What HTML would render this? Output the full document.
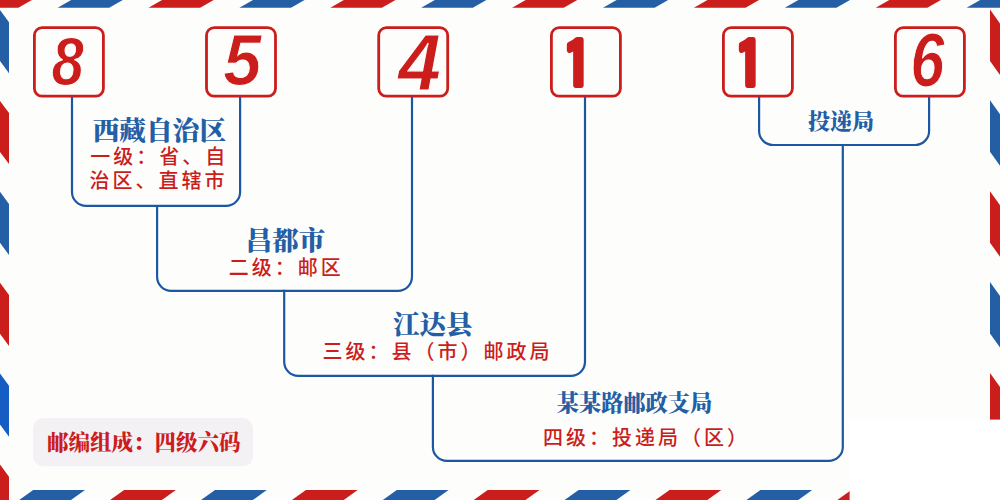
<!DOCTYPE html>
<html lang="zh-CN">
<head>
<meta charset="utf-8">
<title>854116</title>
<style>
html,body{margin:0;padding:0;background:#fdfefc;}
body{width:1000px;height:500px;overflow:hidden;position:relative;}
svg{position:absolute;left:0;top:0;display:block;}
.t{font-family:"Liberation Serif","Noto Serif CJK SC",serif;font-weight:900;fill:#245fa5;text-anchor:middle;}
.r{font-family:"Liberation Sans","Noto Sans CJK SC",sans-serif;font-weight:500;fill:#cb1d1c;text-anchor:middle;font-size:20px;letter-spacing:3px;}
.d{font-family:"Liberation Sans","DejaVu Sans",sans-serif;font-weight:700;font-style:italic;fill:#cb1d1c;text-anchor:middle;font-size:70px;}
.l{font-family:"Liberation Serif","Noto Serif CJK SC",serif;font-weight:900;fill:#cb1d1c;font-size:21.5px;}
</style>
</head>
<body>
<svg width="1000" height="500" viewBox="0 0 1000 500">
<rect x="0" y="0" width="1000" height="500" fill="#fdfefc"/>
<g shape-rendering="geometricPrecision">
<polygon points="-33.3,7.8 18.3,7.8 31.9,0.0 -19.7,0.0" fill="#cb1d1c"/>
<polygon points="57.6,7.8 109.2,7.8 122.8,0.0 71.2,0.0" fill="#245fa5"/>
<polygon points="148.5,7.8 200.1,7.8 213.7,0.0 162.1,0.0" fill="#cb1d1c"/>
<polygon points="239.4,7.8 291.0,7.8 304.6,0.0 253.0,0.0" fill="#245fa5"/>
<polygon points="330.3,7.8 381.9,7.8 395.5,0.0 343.9,0.0" fill="#cb1d1c"/>
<polygon points="421.2,7.8 472.8,7.8 486.4,0.0 434.8,0.0" fill="#245fa5"/>
<polygon points="512.1,7.8 563.7,7.8 577.3,0.0 525.7,0.0" fill="#cb1d1c"/>
<polygon points="603.0,7.8 654.6,7.8 668.2,0.0 616.6,0.0" fill="#245fa5"/>
<polygon points="693.9,7.8 745.5,7.8 759.1,0.0 707.5,0.0" fill="#cb1d1c"/>
<polygon points="784.8,7.8 836.4,7.8 850.0,0.0 798.4,0.0" fill="#245fa5"/>
<polygon points="875.7,7.8 927.3,7.8 940.9,0.0 889.3,0.0" fill="#cb1d1c"/>
<polygon points="966.6,7.8 1018.2,7.8 1031.8,0.0 980.2,0.0" fill="#245fa5"/>
<polygon points="1057.5,7.8 1109.1,7.8 1122.7,0.0 1071.1,0.0" fill="#cb1d1c"/>
<polygon points="-71.7,500.0 -19.9,500.0 -5.9,490.0 -57.7,490.0" fill="#cb1d1c"/>
<polygon points="19.2,500.0 71.0,500.0 85.0,490.0 33.2,490.0" fill="#245fa5"/>
<polygon points="110.1,500.0 161.9,500.0 175.9,490.0 124.1,490.0" fill="#cb1d1c"/>
<polygon points="201.0,500.0 252.8,500.0 266.8,490.0 215.0,490.0" fill="#245fa5"/>
<polygon points="291.9,500.0 343.7,500.0 357.7,490.0 305.9,490.0" fill="#cb1d1c"/>
<polygon points="382.8,500.0 434.6,500.0 448.6,490.0 396.8,490.0" fill="#245fa5"/>
<polygon points="473.7,500.0 525.5,500.0 539.5,490.0 487.7,490.0" fill="#cb1d1c"/>
<polygon points="564.6,500.0 616.4,500.0 630.4,490.0 578.6,490.0" fill="#245fa5"/>
<polygon points="655.5,500.0 707.3,500.0 721.3,490.0 669.5,490.0" fill="#cb1d1c"/>
<polygon points="746.4,500.0 798.2,500.0 812.2,490.0 760.4,490.0" fill="#245fa5"/>
<polygon points="837.3,500.0 889.1,500.0 903.1,490.0 851.3,490.0" fill="#cb1d1c"/>
<polygon points="928.2,500.0 980.0,500.0 994.0,490.0 942.2,490.0" fill="#245fa5"/>
<polygon points="1019.1,500.0 1070.9,500.0 1084.9,490.0 1033.1,490.0" fill="#cb1d1c"/>
<polygon points="0.0,-80.9 0.0,-29.9 9.0,-17.7 9.0,-68.7" fill="#cb1d1c"/>
<polygon points="0.0,10.0 0.0,61.0 9.0,73.2 9.0,22.2" fill="#245fa5"/>
<polygon points="0.0,100.9 0.0,151.9 9.0,164.1 9.0,113.1" fill="#cb1d1c"/>
<polygon points="0.0,191.8 0.0,242.8 9.0,255.0 9.0,204.0" fill="#245fa5"/>
<polygon points="0.0,282.7 0.0,333.7 9.0,345.9 9.0,294.9" fill="#cb1d1c"/>
<polygon points="0.0,373.6 0.0,424.6 9.0,436.8 9.0,385.8" fill="#155dc2"/>
<polygon points="0.0,464.5 0.0,515.5 9.0,527.7 9.0,476.7" fill="#cb1d1c"/>
<polygon points="0.0,555.4 0.0,606.4 9.0,618.6 9.0,567.6" fill="#245fa5"/>
<polygon points="990.0,-81.5 990.0,-30.0 1000.0,-16.0 1000.0,-67.5" fill="#245fa5"/>
<polygon points="990.0,9.4 990.0,60.9 1000.0,74.9 1000.0,23.4" fill="#cb1d1c"/>
<polygon points="990.0,100.3 990.0,151.8 1000.0,165.8 1000.0,114.3" fill="#245fa5"/>
<polygon points="990.0,191.2 990.0,242.7 1000.0,256.7 1000.0,205.2" fill="#cb1d1c"/>
<polygon points="990.0,282.1 990.0,333.6 1000.0,347.6 1000.0,296.1" fill="#245fa5"/>
<polygon points="990.0,373.0 990.0,424.5 1000.0,438.5 1000.0,387.0" fill="#cb1d1c"/>
<polygon points="990.0,463.9 990.0,515.4 1000.0,529.4 1000.0,477.9" fill="#245fa5"/>
<polygon points="990.0,554.8 990.0,606.3 1000.0,620.3 1000.0,568.8" fill="#cb1d1c"/>
</g>
<rect x="849.6" y="419.6" width="151" height="81" fill="#ffffff"/>
<g fill="none" stroke="#1c57a3" stroke-width="2.2" stroke-linecap="butt">
<path d="M72.0 97.0 V191.9 A14 14 0 0 0 86.0 205.9 H226.1 A14 14 0 0 0 240.1 191.9 V97.0"/>
<path d="M157.1 204.9 V276.8 A14 14 0 0 0 171.1 290.8 H398.0 A14 14 0 0 0 412.0 276.8 V97.0"/>
<path d="M284.2 289.8 V361.8 A14 14 0 0 0 298.2 375.8 H571.0 A14 14 0 0 0 585.0 361.8 V97.0"/>
<path d="M432.9 374.8 V446.9 A14 14 0 0 0 446.9 460.9 H828.8 A14 14 0 0 0 842.8 446.9 V144.0"/>
<path d="M759.1 97.0 V131.0 A14 14 0 0 0 773.1 145.0 H915.1 A14 14 0 0 0 929.1 131.0 V97.0"/>
</g>
<g>
<rect x="34.4" y="27.6" width="69" height="68.6" rx="7.8" ry="7.8" fill="none" stroke="#cb1d1c" stroke-width="2.8"/>
<rect x="206.5" y="27.6" width="69" height="68.6" rx="7.8" ry="7.8" fill="none" stroke="#cb1d1c" stroke-width="2.8"/>
<rect x="378.7" y="27.6" width="69" height="68.6" rx="7.8" ry="7.8" fill="none" stroke="#cb1d1c" stroke-width="2.8"/>
<rect x="551.4" y="27.6" width="69" height="68.6" rx="7.8" ry="7.8" fill="none" stroke="#cb1d1c" stroke-width="2.8"/>
<rect x="723.4" y="27.6" width="69" height="68.6" rx="7.8" ry="7.8" fill="none" stroke="#cb1d1c" stroke-width="2.8"/>
<rect x="895.4" y="27.6" width="69" height="68.6" rx="7.8" ry="7.8" fill="none" stroke="#cb1d1c" stroke-width="2.8"/>
</g>
<rect x="33" y="418" width="220" height="48.2" rx="10" ry="10" fill="#f3f1f4"/>
<g class="d">
<text transform="translate(67.70 85.00) scale(0.831 0.975)" stroke="#fdfefc" stroke-width="1">8</text>
<text transform="translate(242.20 85.00) scale(0.980 1.033)" stroke="#fdfefc" stroke-width="1">5</text>
<text transform="translate(419.50 90.30) scale(1.097 1.132)" stroke="#fdfefc" stroke-width="1">4</text>
<text transform="translate(577.50 88.00) scale(0.860 0.922)" font-style="normal" font-weight="400" font-family="IPAGothic,'Liberation Sans',sans-serif" stroke="#cb1d1c" stroke-width="6.5" stroke-linejoin="round" stroke-linecap="round">1</text>
<text transform="translate(749.50 88.00) scale(0.860 0.922)" font-style="normal" font-weight="400" font-family="IPAGothic,'Liberation Sans',sans-serif" stroke="#cb1d1c" stroke-width="6.5" stroke-linejoin="round" stroke-linecap="round">1</text>
<text transform="translate(927.30 86.30) scale(0.880 1.082)" stroke="#fdfefc" stroke-width="1">6</text>
</g>
<text class="t" x="159.4" y="140" font-size="26.7">西藏自治区</text>
<text class="r" x="159.2" y="164.3">一级：省、自</text>
<text class="r" x="158.6" y="188">治区、直辖市</text>
<text class="t" x="285.6" y="250" font-size="26.5">昌都市</text>
<text class="r" x="286.3" y="275.3">二级：邮区</text>
<text class="t" x="432.8" y="334" font-size="26.5">江达县</text>
<text class="r" x="437.6" y="359.2">三级：县（市）邮政局</text>
<text class="t" x="634.5" y="411" font-size="22.2">某某路邮政支局</text>
<text class="r" x="646.6" y="445">四级：投递局（区）</text>
<text class="t" x="841" y="129" font-size="22">投递局</text>
<text class="l" x="47" y="450">邮编组成：四级六码</text>
</svg>
</body>
</html>
